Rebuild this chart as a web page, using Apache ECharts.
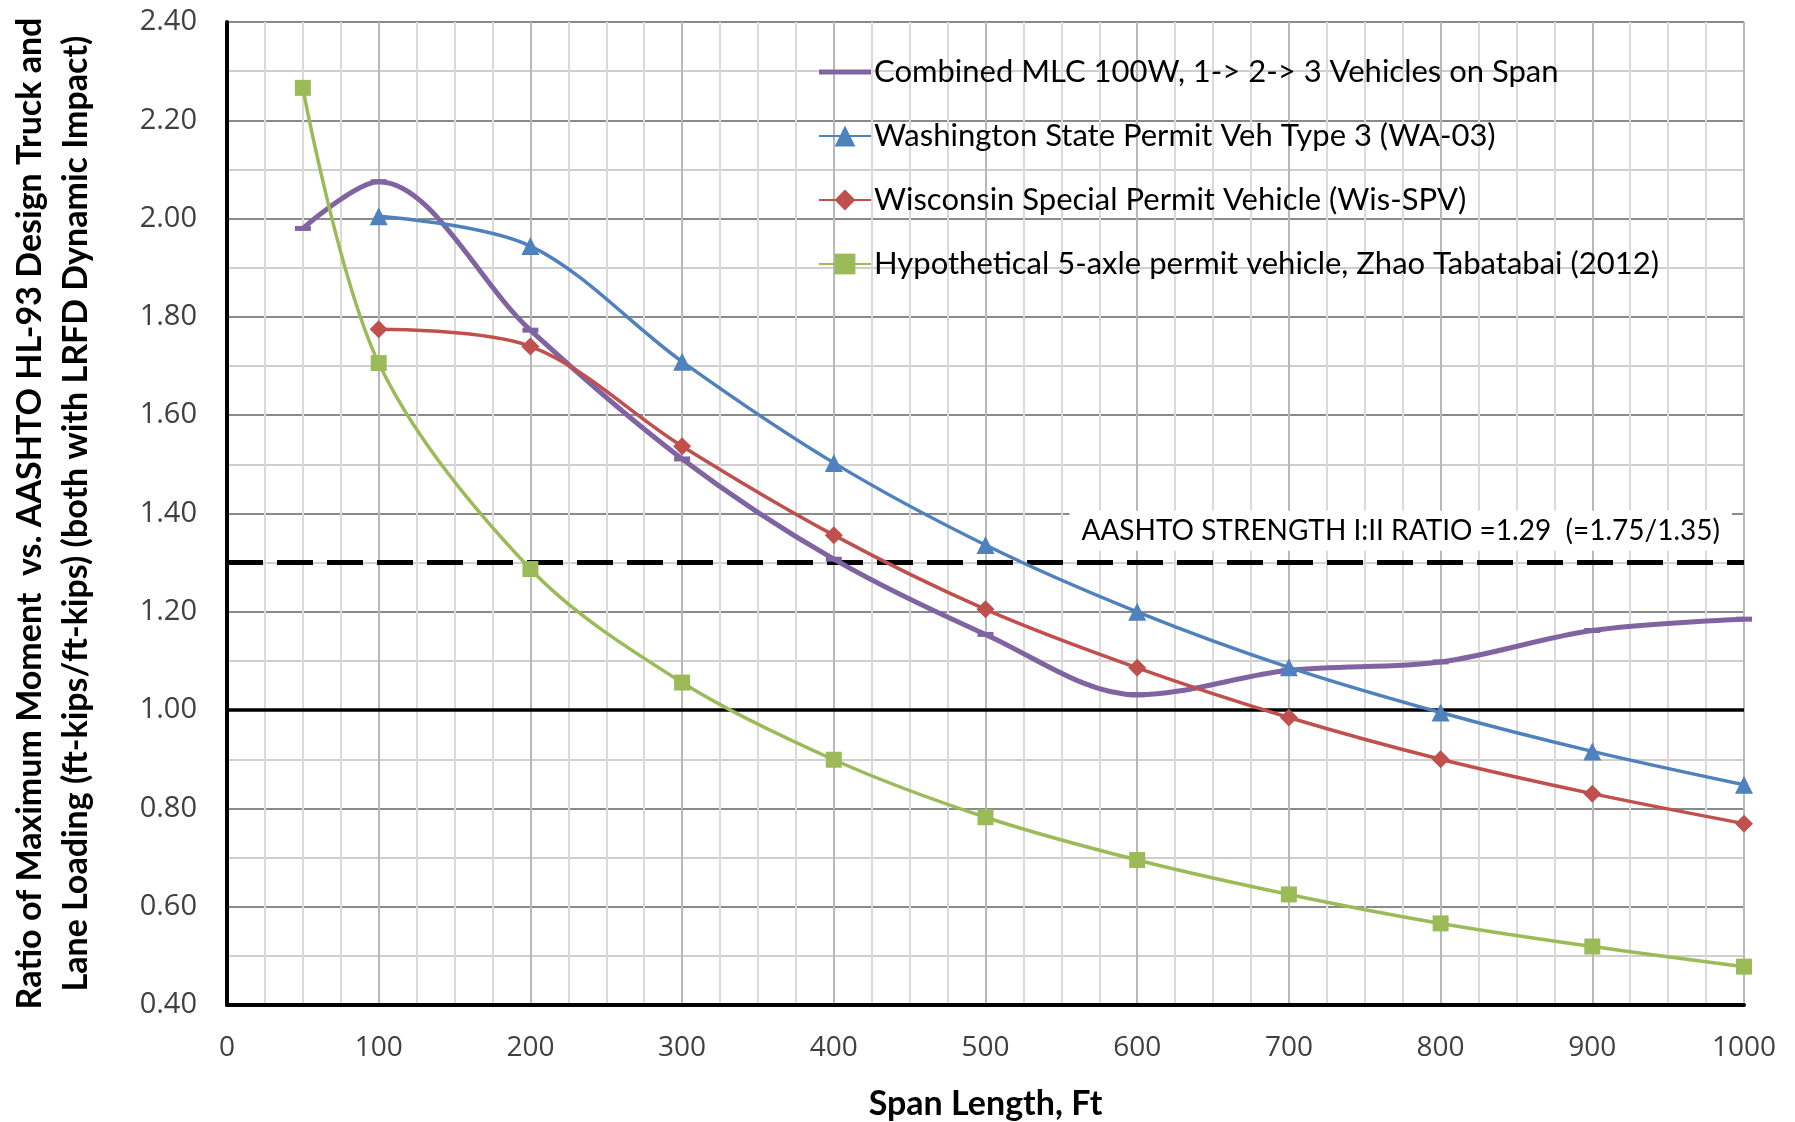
<!DOCTYPE html>
<html>
<head>
<meta charset="utf-8">
<script src="https://cdn.jsdelivr.net/npm/echarts@6/dist/echarts.min.js"></script>
<style>
	html, body { margin: 0; padding: 0; background: #fff; }
	#chart { width: 1795px; height: 1122px; }
</style>
</head>
<body>
<div id="chart"></div>
<script>
	// span lengths (ft)
	var spanAll = [50, 100, 200, 300, 400, 500, 600, 700, 800, 900, 1000];
	var spanFrom100 = [100, 200, 300, 400, 500, 600, 700, 800, 900, 1000];

	var mlcRatio = [1.98, 2.075, 1.773, 1.511, 1.307, 1.154, 1.031, 1.081, 1.098, 1.162, 1.185];
	var wa03Ratio = [2.005, 1.944, 1.709, 1.503, 1.336, 1.200, 1.087, 0.995, 0.916, 0.848];
	var wisRatio = [1.775, 1.740, 1.537, 1.356, 1.205, 1.086, 0.985, 0.900, 0.830, 0.769];
	var zhaoRatio = [2.266, 1.706, 1.287, 1.056, 0.899, 0.782, 0.695, 0.625, 0.566, 0.519, 0.478];

	var seriesNames = [
		'Combined MLC 100W, 1-> 2-> 3 Vehicles on Span',
		'Washington State Permit Veh Type 3 (WA-03)',
		'Wisconsin Special Permit Vehicle (Wis-SPV)',
		'Hypothetical 5-axle permit vehicle, Zhao Tabatabai (2012)'
	];
	var strengthRatio = 1.3;
	var unityRatio = 1.0;
	var strengthLabel = 'AASHTO STRENGTH I:II RATIO =1.29  (=1.75/1.35)';

	function pairs(xs, ys){
		var out = [];
		for (var i = 0; i < ys.length; i++) out.push([xs[i], ys[i]]);
		return out;
	}

	var labelFont = 'Lato, "Open Sans", sans-serif';
	var smoothness = 0.33;
	var myEchart = echarts.init(document.getElementById('chart'));
	var option = {
		animation: false,
		color: ['#8064A2', '#4F81BD', '#C0504D', '#9BBB59'],
		grid: { left: 227, right: 51, top: 22, bottom: 117, outerBoundsMode: 'none', containLabel: false },
		legend: {
			orient: 'vertical',
			left: 813,
			top: 47,
			itemWidth: 52,
			itemHeight: 26,
			itemGap: 24,
			data: [
				{ name: seriesNames[0], icon: 'path://M0,0 L52,0 L52,5 L0,5 Z' },
				{ name: seriesNames[1] },
				{ name: seriesNames[2] },
				{ name: seriesNames[3] }
			],
			textStyle: { fontFamily: labelFont, fontSize: 31, color: '#000', lineHeight: 40, padding: [0, 0, 0, -2] }
		},
		xAxis: {
			type: 'value',
			min: 0, max: 1000, interval: 100,
			name: 'Span Length, Ft',
			nameLocation: 'middle',
			nameGap: 82,
			nameTextStyle: { fontFamily: labelFont, fontWeight: 'bold', fontSize: 34, color: '#000' },
			axisLine: { show: true, lineStyle: { color: '#000', width: 4 } },
			axisTick: { show: false },
			axisLabel: {
				fontFamily: '"Open Sans", sans-serif', fontSize: 28, color: '#404040', margin: 29,
				formatter: function(v){ return String(v); }
			},
			splitLine: { show: true, lineStyle: { color: '#b8b8b8', width: 2 } },
			minorTick: { show: false, splitNumber: 4 },
			minorSplitLine: { show: true, lineStyle: { color: '#dadada', width: 2 } }
		},
		yAxis: {
			type: 'value',
			min: 0.4, max: 2.4, interval: 0.2,
			name: 'Ratio of Maximum Moment  vs. AASHTO HL-93 Design Truck and\nLane Loading (ft-kips/ft-kips) (both with LRFD Dynamic Impact)',
			nameLocation: 'middle',
			nameRotate: 90,
			nameGap: 128,
			nameTextStyle: { fontFamily: labelFont, fontWeight: 'bold', fontSize: 34, lineHeight: 46, color: '#000' },
			axisLine: { show: true, lineStyle: { color: '#000', width: 4 } },
			axisTick: { show: false },
			axisLabel: {
				fontFamily: '"Open Sans", sans-serif', fontSize: 29, color: '#404040', margin: 30,
				formatter: function(v){ return v.toFixed(2); }
			},
			splitLine: { show: true, lineStyle: { color: '#8a8a8a', width: 2 } },
			minorTick: { show: false, splitNumber: 2 },
			minorSplitLine: { show: true, lineStyle: { color: '#cfcfcf', width: 2 } }
		},
		series: [{
			name: seriesNames[0],
			type: 'line',
			smooth: smoothness,
			data: pairs(spanAll, mlcRatio),
			symbol: 'rect',
			symbolSize: [16, 5],
			lineStyle: { width: 5 },
			z: 3
		}, {
			name: seriesNames[1],
			type: 'line',
			smooth: smoothness,
			data: pairs(spanFrom100, wa03Ratio),
			symbol: 'triangle',
			symbolSize: 18,
			lineStyle: { width: 3.5 },
			z: 4
		}, {
			name: seriesNames[2],
			type: 'line',
			smooth: smoothness,
			data: pairs(spanFrom100, wisRatio),
			symbol: 'diamond',
			symbolSize: 18,
			lineStyle: { width: 3.5 },
			z: 4
		}, {
			name: seriesNames[3],
			type: 'line',
			smooth: smoothness,
			data: pairs(spanAll, zhaoRatio),
			symbol: 'rect',
			symbolSize: 16,
			lineStyle: { width: 3.5 },
			z: 4,
			markLine: {
				silent: true,
				symbol: 'none',
				z: 2,
				data: [{
					yAxis: strengthRatio,
					lineStyle: { color: '#000', width: 5, type: [36, 14] },
					label: {
						show: true,
						position: 'insideEndTop',
						formatter: strengthLabel,
						fontFamily: labelFont,
						fontSize: 28,
						color: '#000',
						backgroundColor: '#fff',
						padding: [6, 12],
						distance: [12, 12]
					}
				}, {
					yAxis: unityRatio,
					lineStyle: { color: '#000', width: 3.5, type: 'solid' },
					label: { show: false }
				}]
			}
		}]
	};
	myEchart.setOption(option);
</script>
</body>
</html>
